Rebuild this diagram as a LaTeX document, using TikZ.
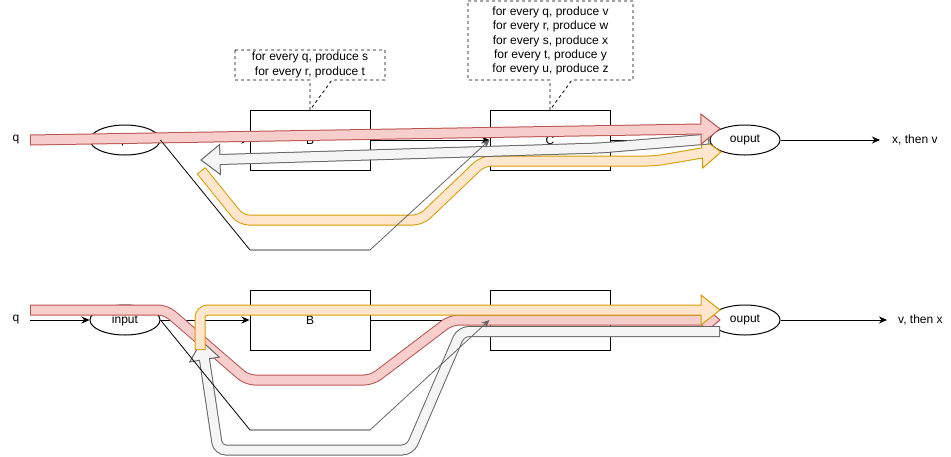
\documentclass[tikz,border=0pt]{standalone}
\usepackage{fontspec}
\setmainfont{Liberation Sans}
\usetikzlibrary{arrows.meta,calc,shapes.geometric}
\definecolor{rfill}{HTML}{F8CECC}\definecolor{rline}{HTML}{B85450}
\definecolor{ofill}{HTML}{FFE6CC}\definecolor{oline}{HTML}{D79B00}
\definecolor{gfill}{HTML}{F5F5F5}\definecolor{gline}{HTML}{666666}
\newcommand\flexarr[5]{%
  \draw[#2, line width=11pt, rounded corners=8pt] #3;
  \filldraw[fill=#1, draw=#2, line width=1pt, line join=miter]
    ($(#4)!15pt!90:(#5)$) -- (#5) -- ($(#4)!15pt!-90:(#5)$) -- cycle;
  \draw[#1, line width=9pt, rounded corners=8pt, shorten <=1pt, shorten >=-1.5pt] #3;
}
\tikzset{
  conn/.style={line width=0.8pt, -{Stealth[length=8pt,width=7pt,inset=2.5pt]}},
  plain/.style={line width=0.8pt},
  box/.style={draw, line width=1pt, minimum width=120pt, minimum height=60pt, inner sep=0pt},
  ell/.style={draw, ellipse, line width=1pt, minimum width=70pt, minimum height=30pt, inner sep=0pt},
  qlbl/.style={inner sep=0pt, minimum width=28pt},
  rlbl/.style={inner sep=0pt, anchor=west},
  callout/.style={draw, line width=0.8pt, dash pattern=on 3pt off 3pt},
  ctext/.style={align=center, inner sep=0pt},
}
\begin{document}
\begin{tikzpicture}[x=1pt,y=-1pt,font=\fontsize{12pt}{14.4pt}\selectfont]
\useasboundingbox (0,0) rectangle (951,456);

% ---------- top ----------
\node[qlbl] (qT) at (16,140) {q};
\node[ell] (inT) at (125,140) {input};
\node[box] (BT) at (310,140) {B};
\node[box] (CT) at (550,140) {C};
\node[ell] (oT) at (745,140) {ouput};
\node[rlbl] (xT) at (892,140) {x, then v};
\draw[conn] (qT.east) -- (inT.west);
\draw[conn] (inT.east) -- (BT.west);
\draw[conn] (BT.east) -- (CT.west);
\draw[conn] (CT.east) -- (oT.west);
\draw[conn, shorten >=12pt] (oT.east) -- (xT.west);

% callouts
\draw[callout] (235,50) -- (385,50) -- (385,80) -- (332,80) -- (310,110) -- (310,80) -- (235,80) -- cycle;
\node[ctext] (cl1) at (310,65) {for every q, produce s\\for every r, produce t};
\draw[callout] (468,1) -- (633,1) -- (633,80) -- (572,80) -- (550,110) -- (550,80) -- (468,80) -- cycle;
\node[ctext] (cl2) at (550.5,41) {for every q, produce v\\for every r, produce w\\for every s, produce x\\for every t, produce y\\for every u, produce z};

% big arrows top
\coordinate (ob1) at (702,153); \coordinate (ot1) at (721,152);
\flexarr{ofill}{oline}{(201,170.5) -- (241,220) -- (421,220) -- (483,161) -- (655,161) -- (ob1)}{ob1}{ot1}
\coordinate (gb1) at (220,159.5); \coordinate (gt1) at (201,160);
\flexarr{gfill}{gline}{(709,139) -- (600,148) -- (gb1)}{gb1}{gt1}
\coordinate (rb1) at (701,129); \coordinate (rt1) at (720,128.7);
\flexarr{rfill}{rline}{(30,140) -- (rb1)}{rb1}{rt1}

% routed connector top
\coordinate (t1) at (250,250); \coordinate (t2) at (370,250);
\draw[plain] (inT.east) -- (t1) -- (t2);
\draw[conn, black!60] (t2) -- (CT.west);

% ---------- bottom ----------
\node[qlbl] (qB) at (16,320) {q};
\node[ell] (inB) at (125,320) {input};
\node[box] (BB) at (310,320) {B};
\node[box] (CB) at (550,320) {C};
\node[ell] (oB) at (745,320) {ouput};
\node[rlbl] (xB) at (898,320) {v, then x};
\draw[conn] (qB.east) -- (inB.west);
\draw[conn] (inB.east) -- (BB.west);
\draw[conn] (BB.east) -- (CB.west);
\draw[conn] (CB.east) -- (oB.west);
\draw[conn, shorten >=11pt] (oB.east) -- (xB.west);

% big arrows bottom
\coordinate (rb2) at (702,320); \coordinate (rt2) at (720,320);
\flexarr{rfill}{rline}{(30,310) -- (166,310) -- (247,380) -- (372,380) -- (451,320) -- (rb2)}{rb2}{rt2}
\coordinate (gb2) at (204.5,359.5); \coordinate (gt2) at (201.5,341);
\flexarr{gfill}{gline}{(720,331.5) -- (461,331.5) -- (410,450) -- (218,450) -- (gb2)}{gb2}{gt2}
\coordinate (ob2) at (701,310); \coordinate (ot2) at (720,310);
\flexarr{ofill}{oline}{(200,350) -- (200,310) -- (ob2)}{ob2}{ot2}

% routed connector bottom
\coordinate (b1) at (250,430); \coordinate (b2) at (370,430);
\draw[plain] (inB.east) -- (b1) -- (b2);
\draw[conn, black!60] (b2) -- (CB.west);
\end{tikzpicture}
\end{document}
